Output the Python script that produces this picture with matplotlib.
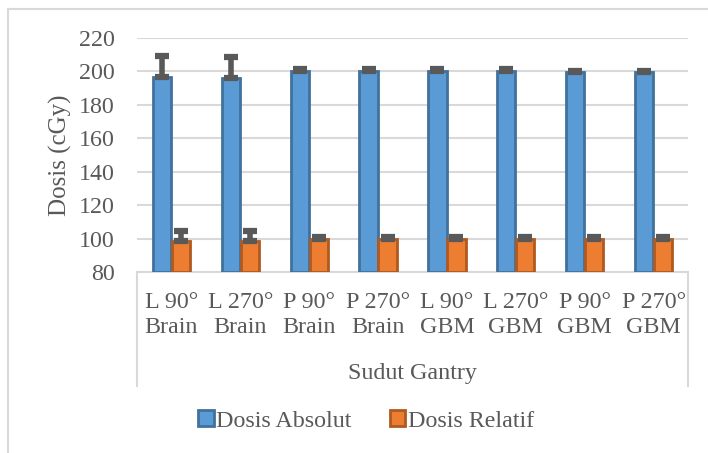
import matplotlib
matplotlib.use("Agg")
import matplotlib.pyplot as plt
from matplotlib.lines import Line2D
from matplotlib.patches import Patch
import numpy as np

# data
categories = ['L 90°\nBrain', 'L 270°\nBrain', 'P 90°\nBrain', 'P 270°\nBrain',
              'L 90°\nGBM', 'L 270°\nGBM', 'P 90°\nGBM', 'P 270°\nGBM']
absolut = [196.5, 196, 200, 200, 200, 200, 199.5, 199.5]
absolut_err = [12.5, 12.5, 1.2, 1.2, 1.2, 1.2, 1.0, 1.0]
relatif = [98.5, 98.5, 100, 100, 100, 100, 99.8, 99.8]
relatif_err = [6.0, 6.0, 1.0, 1.0, 1.0, 1.0, 1.0, 1.0]
yticks = [80, 100, 120, 140, 160, 180, 200, 220]

W, H = 708, 453
TXT = '#595959'; GRID = '#D9D9D9'
BLUE = '#5B9BD5'; BLUE_E = '#41719C'
ORANGE = '#ED7D31'; ORANGE_E = '#AE5A21'
ERR = '#595959'
FS = 17.3

plt.rcParams['font.family'] = ['Liberation Serif', 'DejaVu Serif']

fig = plt.figure(figsize=(W / 100, H / 100), dpi=100)
ax = fig.add_axes([137 / W, 1 - 272 / H, (688 - 137) / W, (272 - 38) / H])

x = np.arange(len(categories))
bw = 0.264
off = 0.138
ax.bar(x - off, np.array(absolut) - 80, bottom=80, width=bw, color=BLUE,
       edgecolor=BLUE_E, linewidth=2, zorder=3)
ax.bar(x + off, np.array(relatif) - 80, bottom=80, width=bw, color=ORANGE,
       edgecolor=ORANGE_E, linewidth=2, zorder=3)

for xs, vals, errs in [(x - off, absolut, absolut_err), (x + off, relatif, relatif_err)]:
    ax.errorbar(xs, vals, yerr=[np.zeros(len(errs)), errs], fmt='none',
                ecolor=ERR, elinewidth=4, capsize=5, capthick=4.5, zorder=4)

ax.set_xlim(-0.5, len(categories) - 0.5)
ax.set_ylim(80, 220)
ax.set_yticks(yticks)
ax.set_yticklabels([str(t) for t in yticks])
ax.yaxis.grid(True, color=GRID, linewidth=1.5, zorder=0)
ax.set_axisbelow(True)
for s in ['left', 'right', 'top']:
    ax.spines[s].set_visible(False)
ax.spines['bottom'].set_color(GRID)
ax.spines['bottom'].set_linewidth(1.5)
ax.tick_params(axis='y', length=0, pad=16, labelsize=FS, labelcolor=TXT)
ax.set_xticks([])

# category labels below the axis
for i, lab in enumerate(categories):
    ax.text(i, -(315 - 272) / 234, lab, transform=ax.get_xaxis_transform(),
            ha='center', va='center', fontsize=FS, color=TXT, linespacing=1.3)

ax.set_ylabel('Dosis (cGy)', fontsize=18, color=TXT)
ax.yaxis.set_label_coords(-(137 - 72) / (688 - 137), 0.5)

# box around the category labels
for xx in [137, 688]:
    fig.add_artist(Line2D([xx / W, xx / W], [1 - 272 / H, 1 - 386 / H], color=GRID, lw=1.5))
fig.text(412 / W, 1 - 373 / H, 'Sudut Gantry', ha='center', va='center', fontsize=FS, color=TXT)

# chart area border
fig.add_artist(Line2D([8 / W, 8 / W], [0, 1 - 9 / H], color=GRID, lw=1.5))
fig.add_artist(Line2D([8 / W, 1], [1 - 9 / H, 1 - 9 / H], color=GRID, lw=1.5))

handles = [Patch(facecolor=BLUE, edgecolor=BLUE_E, linewidth=2),
           Patch(facecolor=ORANGE, edgecolor=ORANGE_E, linewidth=2)]
fig.legend(handles, ['Dosis Absolut', 'Dosis Relatif'], loc='center',
           bbox_to_anchor=(366 / W, 1 - 421 / H), ncol=2, frameon=False,
           fontsize=FS, handlelength=0.65, handleheight=0.65, handletextpad=0.1,
           columnspacing=1.6, labelcolor=TXT)

fig.savefig('out.png', dpi=100)
